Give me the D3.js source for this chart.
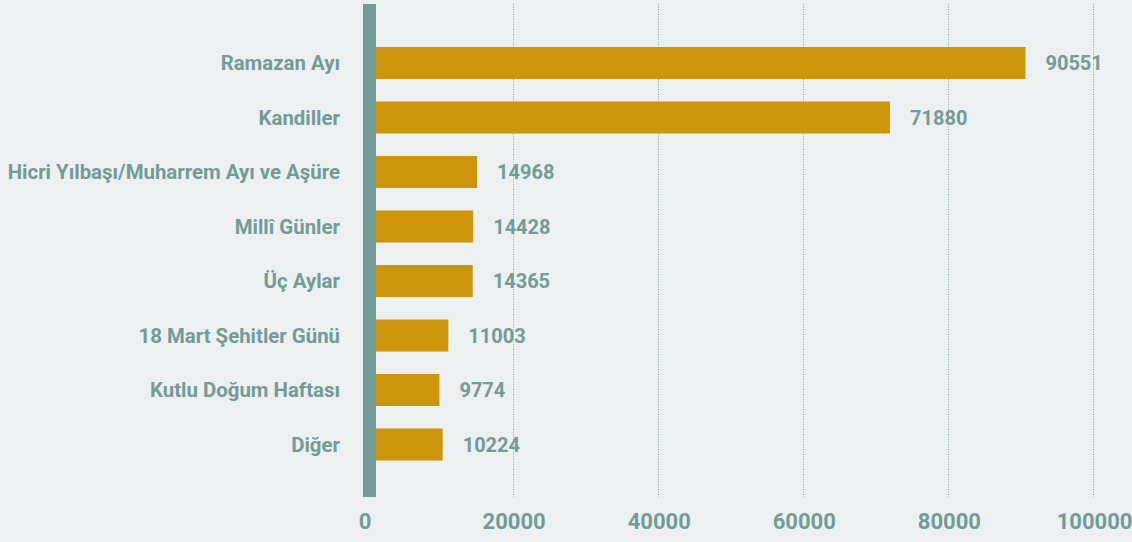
<!DOCTYPE html>
<html>
<head>
<meta charset="utf-8">
<script src="https://cdn.jsdelivr.net/npm/d3@7"></script>
<style>
  body { margin: 0; background: #ecf0f1; }
  svg { display: block; font-family: Roboto, "Noto Sans", sans-serif; font-weight: bold; }
</style>
</head>
<body>
<svg id="chart" width="1132" height="542"></svg>
<script>
// data
var categories = ["Ramazan Ayı", "Kandiller", "Hicri Yılbaşı/Muharrem Ayı ve Aşüre", "Millî Günler",
                  "Üç Aylar", "18 Mart Şehitler Günü", "Kutlu Doğum Haftası", "Diğer"];
var values = [90551, 71880, 14968, 14428, 14365, 11003, 9774, 10224];
var ticks = [0, 20000, 40000, 60000, 80000, 100000];

var teal = "#739b97";
var gold = "#cc950c";

var svg = d3.select("#chart");

//scales
var x = d3.scaleLinear().domain([0, 100000]).range([368.5, 1094]);
var y = d3.scaleBand().domain(categories).range([35.75, 471.75])
    .paddingInner(0.413).paddingOuter(0.2065);

var plotTop = 4, plotBottom = 497;

//gridlines (dotted)
svg.append("g").selectAll("line")
    .data(ticks.slice(1))
    .enter().append("line")
    .attr("x1", function(d){ return Math.round(x(d)) - 0.5; })
    .attr("x2", function(d){ return Math.round(x(d)) - 0.5; })
    .attr("y1", plotTop)
    .attr("y2", plotBottom)
    .attr("stroke", teal)
    .attr("stroke-opacity", 0.8)
    .attr("stroke-width", 1)
    .attr("stroke-dasharray", "1,1.5");

//bars
svg.append("g").selectAll("rect")
    .data(values)
    .enter().append("rect")
    .attr("x", x(0))
    .attr("y", function(d, i){ return y(categories[i]); })
    .attr("width", function(d){ return x(d) - x(0); })
    .attr("height", y.bandwidth())
    .attr("fill", gold);

//thick y axis bar
svg.append("rect")
    .attr("x", 363)
    .attr("y", plotTop)
    .attr("width", 13)
    .attr("height", plotBottom - plotTop)
    .attr("fill", teal);

//value labels
svg.append("g").selectAll("text")
    .data(values)
    .enter().append("text")
    .attr("x", function(d){ return x(d) + 20; })
    .attr("y", function(d, i){ return y(categories[i]) + y.bandwidth() / 2; })
    .attr("dy", "0.36em")
    .attr("fill", teal)
    .style("font-size", "20px")
    .text(function(d){ return d; });

//category labels
svg.append("g").selectAll("text")
    .data(categories)
    .enter().append("text")
    .attr("x", 340)
    .attr("y", function(d){ return y(d) + y.bandwidth() / 2; })
    .attr("dy", "0.36em")
    .attr("text-anchor", "end")
    .attr("fill", teal)
    .style("font-size", "20.4px")
    .text(function(d){ return d; });

//x axis tick labels
var xAxis = d3.axisBottom(x).tickValues(ticks).tickSize(0).tickPadding(0)
    .tickFormat(function(d){ return d; });
var gx = svg.append("g")
    .attr("transform", "translate(0,513)")
    .call(xAxis);
gx.select(".domain").remove();
gx.selectAll("text")
    .attr("fill", teal)
    .style("font-size", "22px")
    .style("font-family", "Roboto, sans-serif")
    .style("font-weight", "bold");
gx.selectAll(".tick").filter(function(d){ return d === 0; })
    .attr("transform", "translate(365,0)");
</script>
</body>
</html>
